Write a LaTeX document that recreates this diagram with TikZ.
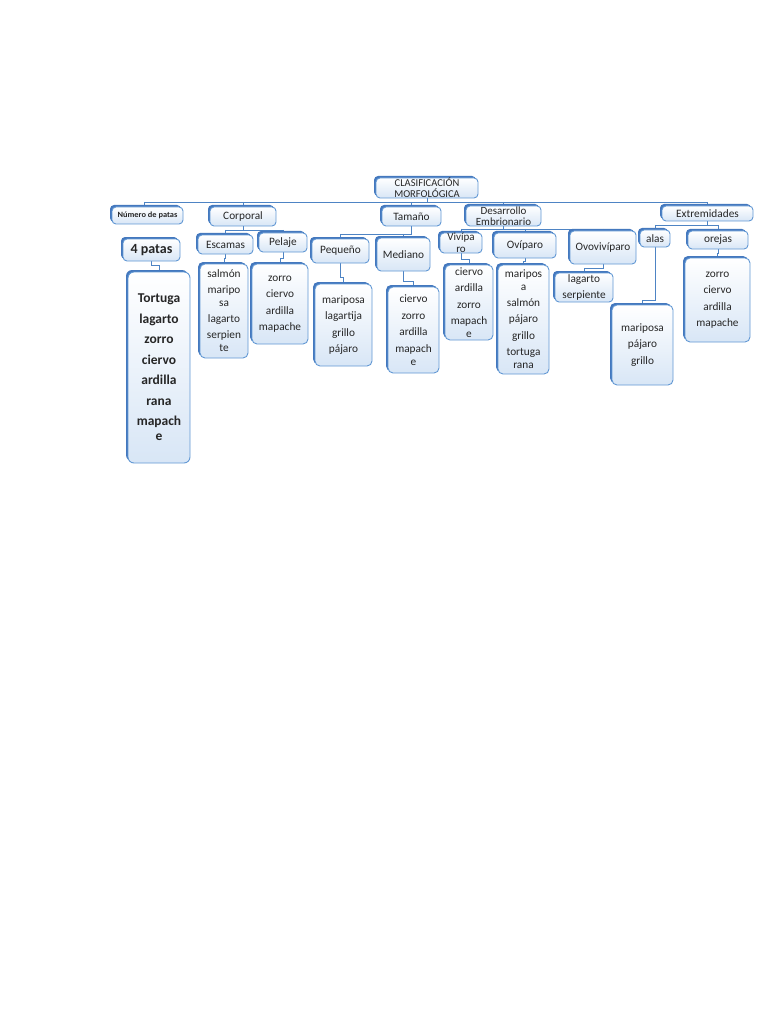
\documentclass[tikz,border=0pt]{standalone}
\usepackage{fontspec}
\setmainfont{Carlito}
\usetikzlibrary{shadows}
\definecolor{bord}{RGB}{98,152,212}
\definecolor{shad}{RGB}{68,120,190}
\definecolor{fillb}{RGB}{216,230,246}
\definecolor{conn}{RGB}{78,132,196}
\pgfdeclarelayer{back}
\pgfdeclarelayer{bg}
\pgfsetlayers{back,bg,main}
\tikzset{
 box/.style={rounded corners=4pt, draw=bord, line width=0.9pt, top color=white, bottom color=fillb,
   general shadow={shadow xshift=-2pt, shadow yshift=2pt, fill=shad},
   inner sep=0pt, align=center, text=black!85, font=\fontsize{11.3}{13}\selectfont},
 sz/.style 2 args={minimum width=#1pt, minimum height=#2pt},
 link/.style={draw=conn, line width=0.9pt},
 bigtext/.style={font=\bfseries\fontsize{13.5}{15}\selectfont}
}
\begin{document}
\begin{tikzpicture}[x=1pt,y=-1pt]
\begin{pgfonlayer}{back}
\fill[white] (0,0) rectangle (768,1024);
\end{pgfonlayer}
\useasboundingbox (0,0) rectangle (768,1024);

% root and categories
\node[box, sz={102}{20}, font=\fontsize{10.5}{11}\selectfont] (root) at (427,188) {CLASIFICACIÓN\\MORFOLÓGICA};
\node[box, sz={71}{17}, font=\bfseries\fontsize{8}{9}\selectfont] (c1) at (147.5,215.5) {\scalebox{1.05}[1]{Número de patas}};
\node[box, sz={66}{19}] (c2) at (243,216.5) {Corporal};
\node[box, sz={59}{19}] (c3) at (411.5,216.5) {Tamaño};
\node[box, sz={75}{20}, font=\fontsize{11}{11}\selectfont] (c4) at (503.5,216) {Desarrollo\\Embrionario};
\node[box, sz={91}{15}] (c5) at (707.5,213.5) {Extremidades};

% level 2
\node[box, sz={57}{22}, font=\bfseries\fontsize{14}{16}\selectfont] (p4) at (151.5,250) {4 patas};
\node[box, sz={55}{19}] (esc) at (225.5,244.5) {Escamas};
\node[box, sz={48}{19}] (pel) at (283,242.5) {Pelaje};
\node[box, sz={57}{24}] (peq) at (340.5,251) {Pequeño};
\node[box, sz={53}{33}] (med) at (403.5,254.5) {Mediano};
\node[box, sz={42}{20}, font=\fontsize{11}{12}\selectfont] (viv) at (461,243) {Vivípa\\ro};
\node[box, sz={62}{25}] (ovi) at (525,245.5) {Ovíparo};
\node[box, sz={66}{33}] (ovo) at (603,247.5) {Ovovivíparo};
\node[box, sz={30}{17}] (ala) at (655,238.5) {alas};
\node[box, sz={60}{18}] (ore) at (718,240) {orejas};

% level 3
\node[box, sz={62}{191}, bigtext, rounded corners=6pt] (l1) at (159,367.5) {Tortuga\\[5.5pt]lagarto\\[5.5pt]zorro\\[5.5pt]ciervo\\[5.5pt]ardilla\\[5.5pt]rana\\[5.5pt]mapach\\e};
\node[box, sz={48}{94}, rounded corners=5pt] (l2) at (224,311) {salmón\\[3pt]maripo\\sa\\[3pt]lagarto\\[3pt]serpien\\te};
\node[box, sz={56}{80}, rounded corners=5pt] (l3) at (280,304) {zorro\\[3.5pt]ciervo\\[3.5pt]ardilla\\[3.5pt]mapache};
\node[box, sz={57}{82}, rounded corners=5pt] (l4) at (343.5,325) {mariposa\\[3.5pt]lagartija\\[3.5pt]grillo\\[3.5pt]pájaro};
\node[box, sz={51}{86}, rounded corners=5pt] (l5) at (413.5,330) {ciervo\\[3.5pt]zorro\\[3.5pt]ardilla\\[3.5pt]mapach\\e};
\node[box, sz={48}{75}, rounded corners=5pt] (l6) at (469,302.5) {ciervo\\[3.5pt]ardilla\\[3.5pt]zorro\\[3.5pt]mapach\\e};
\node[box, sz={51}{109}, rounded corners=5pt] (l7) at (523.5,319.5) {maripos\\a\\[3pt]salmón\\[3pt]pájaro\\[3.5pt]grillo\\[3.5pt]tortuga\\rana};
\node[box, sz={58}{29}, font=\fontsize{11.3}{16}\selectfont] (l8) at (584,287.5) {lagarto\\serpiente};
\node[box, sz={61}{80}, rounded corners=5pt] (l9) at (642.5,345) {mariposa\\[3.5pt]pájaro\\[3.5pt]grillo};
\node[box, sz={65}{84}, rounded corners=5pt] (l10) at (717.5,300) {zorro\\[3.5pt]ciervo\\[3.5pt]ardilla\\[3.5pt]mapache};

\begin{pgfonlayer}{bg}
% main bus
\coordinate (b0) at (0,202);
\draw[link] (root.south) -- (root.south |- b0);
\draw[link] ([xshift=-3.5pt]c1.north |- b0) -- (c5.north |- b0);
\draw[link] ([xshift=-3.5pt]c1.north |- b0) -- ([xshift=-3.5pt]c1.north);
\foreach \c in {c2,c3,c4,c5} \draw[link] (\c.north |- b0) -- (\c.north);
% Corporal
\coordinate (b2) at (0,230);
\draw[link] (c2.south) -- (c2.south |- b2);
\draw[link] (esc.north |- b2) -- (pel.north |- b2);
\foreach \c in {esc,pel} \draw[link] (\c.north |- b2) -- (\c.north);
% Tamano
\coordinate (b3) at (0,234);
\draw[link] (c3.south) |- (peq.north |- b3) -- (peq.north);
\draw[link] (med.north |- b3) -- (med.north);
% Desarrollo
\coordinate (b4) at (0,229);
\draw[link] (c4.south) -- (c4.south |- b4);
\draw[link] (viv.north |- b4) -- (ovo.north |- b4);
\foreach \c in {viv,ovi,ovo} \draw[link] (\c.north |- b4) -- (\c.north);
% Extremidades
\coordinate (b5) at (0,225);
\draw[link] (c5.south) -- (c5.south |- b5);
\draw[link] (ala.north |- b5) -- (ore.north |- b5);
\foreach \c in {ala,ore} \draw[link] (\c.north |- b5) -- (\c.north);
% level 2 -> 3
\draw[link] (p4.south) |- ([yshift=6pt]l1.north) -- (l1.north);
\draw[link] (esc.south) |- ([yshift=5pt]l2.north) -- (l2.north);
\draw[link] (pel.south) |- ([yshift=5pt]l3.north) -- (l3.north);
\draw[link] (peq.south) |- ([yshift=6pt]l4.north) -- (l4.north);
\draw[link] (med.south) |- ([yshift=5pt]l5.north) -- (l5.north);
\draw[link] (viv.south) |- ([yshift=5pt]l6.north) -- (l6.north);
\draw[link] (ovi.south) |- ([yshift=3pt]l7.north) -- (l7.north);
\draw[link] (ovo.south) |- ([yshift=4pt]l8.north) -- (l8.north);
\draw[link] (ala.south) |- ([yshift=4pt]l9.north) -- (l9.north);
\draw[link] (ore.south) |- ([yshift=4pt]l10.north) -- (l10.north);
\end{pgfonlayer}
\end{tikzpicture}
\end{document}
